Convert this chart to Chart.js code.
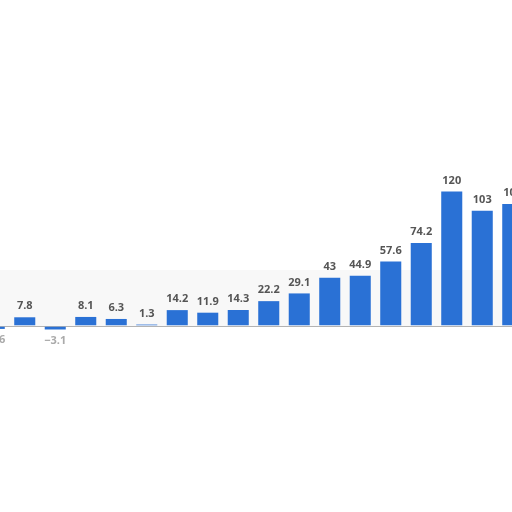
<!DOCTYPE html>
<html>
<head>
<meta charset="utf-8">
<script src="https://cdn.jsdelivr.net/npm/chart.js@4"></script>
<style>
    html, body { margin: 0; padding: 0; background: #fff; overflow: hidden; }
    #wrap { position: absolute; left: -21px; top: 0; width: 549px; height: 512px; }
</style>
</head>
<body>
<div id="wrap"><canvas id="barChart"></canvas></div>
<script>
const categories = ["2005", "2006", "2007", "2008", "2009", "2010", "2011", "2012", "2013",
    "2014", "2015", "2016", "2017", "2018", "2019", "2020", "2021", "2022"];
const values = [-2.6, 7.8, -3.1, 8.1, 6.3, 1.3, 14.2, 11.9, 14.3,
    22.2, 29.1, 43, 44.9, 57.6, 74.2, 120, 103, 109];

// value labels above (or below) each bar
const valueLabels = {
    id: "valueLabels",
    afterDatasetsDraw(chart) {
        const ctx = chart.ctx;
        const meta = chart.getDatasetMeta(0);
        ctx.save();
        ctx.font = "bold 11px 'Open Sans'";
        ctx.textAlign = "center";
        ctx.textBaseline = "middle";
        meta.data.forEach((bar, i) => {
            const v = values[i];
            if (v < 0) {
                ctx.fillStyle = "#aaa";
                ctx.fillText(String(v).replace("-", "\u2212"), bar.x, bar.y + 11);
            } else {
                ctx.fillStyle = "#555";
                ctx.fillText(String(v), bar.x, bar.y - 11);
            }
        });
        ctx.restore();
    }
};

// faint band between 0 and 50
const band = {
    id: "band",
    beforeDatasetsDraw(chart) {
        const y = chart.scales.y;
        const area = chart.chartArea;
        const ctx = chart.ctx;
        ctx.save();
        ctx.fillStyle = "#f8f8f8";
        const top = y.getPixelForValue(50);
        ctx.fillRect(area.left, top, area.right - area.left, y.getPixelForValue(0) - top);
        ctx.restore();
    }
};

new Chart(document.getElementById("barChart"), {
    type: "bar",
    data: {
        labels: categories,
        datasets: [{
            data: values,
            backgroundColor: "#2a71d5",
            barPercentage: 0.69,
            categoryPercentage: 1
        }]
    },
    options: {
        responsive: true,
        maintainAspectRatio: false,
        animation: false,
        layout: { padding: 0 },
        plugins: { legend: { display: false }, tooltip: { enabled: false } },
        scales: {
            x: { display: false },
            y: {
                min: -166,
                max: 291,
                border: { display: false },
                ticks: { display: false, stepSize: 50 },
                grid: {
                    drawTicks: false,
                    lineWidth: c => c.tick && c.tick.value === 0 ? 1.5 : 1,
                    color: c => {
                        if (!c.tick) return "transparent";
                        if (c.tick.value === 0) return "#666";
                        if (c.tick.value === 50) return "#ddd";
                        return "transparent";
                    }
                },
                afterFit: s => { s.width = 0; }
            }
        }
    },
    plugins: [band, valueLabels]
});
</script>
</body>
</html>
